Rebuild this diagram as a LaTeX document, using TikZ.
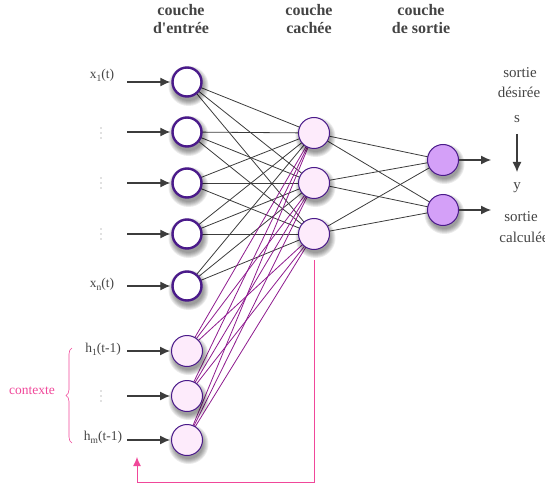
\documentclass[tikz,border=0pt]{standalone}
\usepackage{fontspec}
\setmainfont{Liberation Serif}
\newfontfamily\plainserif{Liberation Serif}
\usetikzlibrary{arrows.meta,decorations.pathreplacing,calc}
\definecolor{nbord}{HTML}{4A1A8A}
\definecolor{ctxfill}{HTML}{FDEBFB}
\definecolor{outfill}{HTML}{D4A0F8}
\definecolor{purpline}{HTML}{8E1A8E}
\definecolor{pinkc}{HTML}{F0489A}
\definecolor{edgegray}{HTML}{3C3C3C}
\definecolor{txtgray}{HTML}{444444}
\newcommand{\sub}[1]{\raisebox{-3pt}{\fontsize{9.5}{9.5}\selectfont #1}}
\newcommand{\nshadow}[1]{%
  \foreach \r in {20,19,18,17,16,15}{\fill[shadowlayer] ($(#1)+(1.5,4)$) circle (\r pt);}}
\tikzset{
  shadowlayer/.style={black, opacity=0.08},
  neuron/.style={circle, minimum size=31pt, inner sep=0pt, draw=nbord},
  inneuron/.style={neuron, fill=white, line width=2.4pt, minimum size=29pt},
  ctxneuron/.style={neuron, fill=ctxfill, line width=1pt},
  hidneuron/.style={neuron, fill=ctxfill, line width=1pt},
  outneuron/.style={neuron, fill=outfill, line width=1pt},
  lbl/.style={text=txtgray, font=\fontsize{13.5}{13.5}\selectfont, inner sep=0pt},
  rlbl/.style={text=txtgray, font=\fontsize{15}{15}\selectfont, inner sep=0pt},
  head/.style={text=txtgray, font=\plainserif\bfseries\fontsize{16}{18}\selectfont, align=center, inner sep=0pt},
  inarrow/.style={-{Latex[length=10pt,width=9pt]}, edgegray, line width=1.1pt},
  gedge/.style={edgegray, line width=0.8pt},
  pedge/.style={purpline, line width=0.8pt},
  vdotc/.style={fill=txtgray!70, draw=none}
}
\begin{document}
\begin{tikzpicture}[x=1pt,y=-1pt]
\useasboundingbox (0,0) rectangle (545,486);
% headers
\node[head] (hin) at (181,19) {couche\\d'entrée};
\node[head] (hhid) at (309,19) {couche\\cachée};
\node[head] (hout) at (421,19) {couche\\de sortie};
% coordinates of neurons
\foreach \i/\y in {1/82,2/132,3/183,4/234,5/286}{
  \coordinate (pi\i) at (187,\y);
  \coordinate (ia\i) at (127,\y);
}
\foreach \i/\y in {1/351,2/396,3/440}{
  \coordinate (pc\i) at (187,\y);
  \coordinate (ca\i) at (127,\y);
}
\foreach \i/\y in {1/133,2/183,3/234}{\coordinate (ph\i) at (314,\y);}
\foreach \i/\y in {1/160,2/210}{
  \coordinate (po\i) at (443,\y);
  \coordinate (oa\i) at (491,\y);
}
% edges (centre to centre, nodes drawn on top)
\foreach \a in {1,...,5}{\foreach \b in {1,2,3}{\draw[gedge] (pi\a) -- (ph\b);}}
\foreach \a in {1,2,3}{\foreach \b in {1,2,3}{\draw[pedge] (pc\a) -- (ph\b);}}
\foreach \a in {1,2,3}{\foreach \b in {1,2}{\draw[gedge] (ph\a) -- (po\b);}}
% shadows
\foreach \i in {1,...,5}{\nshadow{pi\i}}
\foreach \i in {1,2,3}{\nshadow{pc\i}\nshadow{ph\i}}
\foreach \i in {1,2}{\nshadow{po\i}}
% neurons
\foreach \i in {1,...,5}{\node[inneuron] (i\i) at (pi\i) {};}
\foreach \i in {1,2,3}{\node[ctxneuron] (c\i) at (pc\i) {};}
\foreach \i in {1,2,3}{\node[hidneuron] (h\i) at (ph\i) {};}
\foreach \i in {1,2}{\node[outneuron] (o\i) at (po\i) {};}
% input arrows
\foreach \i in {1,...,5}{\draw[inarrow] (ia\i) -- ($(i\i.west)+(-1,0)$);}
\foreach \i in {1,2,3}{\draw[inarrow] (ca\i) -- ($(c\i.west)+(-1,0)$);}
\foreach \i in {1,2}{\draw[inarrow] (o\i.east) -- (oa\i);}
% labels
\node[lbl] (lx1) at (102,75) {x\sub{1}(t)};
\node[lbl] (lxn) at (102,284) {x\sub{n}(t)};
\foreach \y in {133,183,234,396}{
  \foreach \d in {-5,0,5}{\fill[vdotc] (101,\y+\d) circle (0.6pt);}
}
\node[lbl] (lh1) at (103,349) {h\sub{1}(t-1)};
\node[lbl] (lhm) at (103,437) {h\sub{m}(t-1)};
% context brace
\draw[pinkc, line width=0.6pt, decorate, decoration={brace, amplitude=6pt}] (72,443) -- (72,348);
\node[lbl, text=pinkc] (ctx) at (32,391) {contexte};
% right labels
\node[rlbl] (sd1) at (520,73) {sortie};
\node[rlbl] (sd2) at (519,92) {désirée};
\node[rlbl] (s) at (517,119) {s};
\node[rlbl] (y) at (517,188) {y};
\coordinate (sa) at (517,134);
\coordinate (sb) at (517,172);
\draw[inarrow] (sa) -- (sb);
\node[rlbl] (sc1) at (521,217) {sortie};
\node[rlbl] (sc2) at (524,237) {calculée};
% feedback
\coordinate (f0) at (314,260);
\coordinate (f1) at (314,482);
\coordinate (f2) at (137,482);
\coordinate (f3) at (137,457);
\draw[pinkc, line width=1pt, -{Latex[length=9pt,width=8pt]}] (f0) -- (f1) -- (f2) -- (f3);
\end{tikzpicture}
\end{document}
